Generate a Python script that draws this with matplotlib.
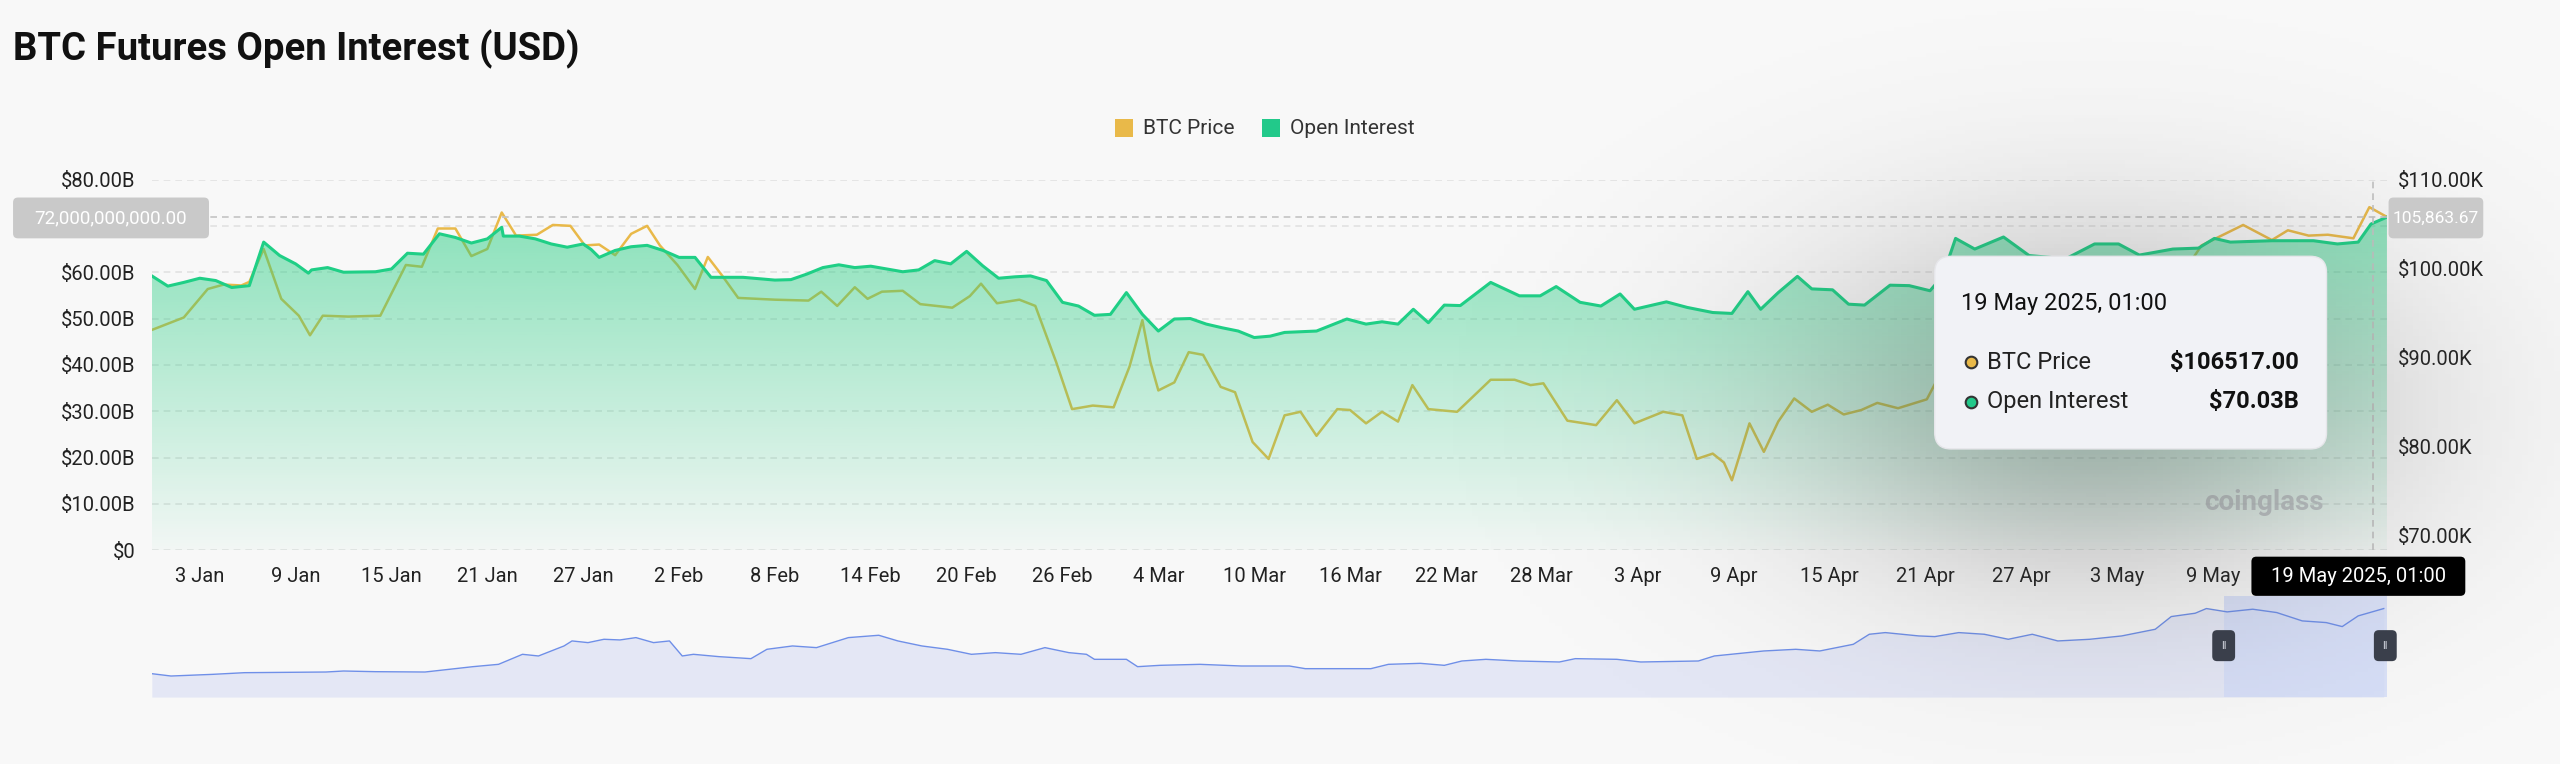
import numpy as np
import matplotlib
matplotlib.use("Agg")
import matplotlib.pyplot as plt
import matplotlib.dates as mdates
from matplotlib.patches import FancyBboxPatch, Rectangle
from matplotlib.path import Path
from matplotlib.patches import PathPatch
import datetime as dt

plt.rcParams["font.family"] = "Roboto"

# ---------------- data ----------------
base_date = dt.datetime(2024, 12, 31)
oi_day = [0, 1, 2, 3, 4, 5, 6.1, 7, 8, 9, 9.8, 10, 11, 12, 14, 15, 16, 17, 18, 19, 20, 21, 21.9, 22, 23, 24, 25, 26,
          27, 27.5, 28, 29, 30, 31, 32, 33, 34, 35, 36, 37, 39, 40, 41, 42, 43, 44, 45, 46, 47, 48, 49, 50, 51, 52, 53, 54,
          55, 56, 57, 58, 59, 60, 61, 62, 63, 64, 65, 66, 67, 68, 69, 70, 70.9, 72.9, 74.8, 76, 77, 78, 78.96, 79.9,
          80.9, 81.9, 83.8, 85.6, 86.9, 87.9, 89.4, 90.7, 91.9, 92.8, 94.8, 96.1, 97.7, 98.9, 99.9, 100.7, 101.8, 103,
          103.9, 105.2, 106.2, 107.2, 108.8, 110, 111.3, 112.1, 112.9, 114.1, 115.9, 117.5, 119.8, 121.6, 123.1, 124.4,
          126.5, 128.1, 129.1, 130.1, 132.7, 135.3, 136.8, 138.1, 138.9, 139.9]
oi_value = [59.2, 57.0, 57.8, 58.7, 58.2, 56.7, 57.1, 66.5, 63.6, 61.8, 59.8, 60.5, 61.0, 60.0, 60.1, 60.7, 64.1, 63.9,
            68.3, 67.5, 66.3, 67.2, 69.7, 67.8, 67.8, 67.2, 66.1, 65.4, 66.1, 64.9, 63.2, 64.7, 65.5, 65.8, 64.7, 63.2,
            63.2, 58.9, 58.9, 58.9, 58.3, 58.4, 59.6, 61.0, 61.6, 61.0, 61.3, 60.7, 60.1, 60.5, 62.5, 61.8, 64.5, 61.4,
            58.7, 59.0, 59.2, 58.2, 53.5, 52.7, 50.7, 50.9, 55.6, 50.9, 47.3, 49.9, 50.0, 48.8, 48.0, 47.3, 45.9, 46.2,
            47.0, 47.3, 49.9, 48.8, 49.3, 48.8, 52.0, 49.1, 52.9, 52.8, 57.8, 54.9, 54.9, 56.9, 53.5, 52.7, 55.3, 52.0,
            53.6, 52.4, 51.3, 51.1, 55.8, 52.0, 55.6, 59.1, 56.4, 56.2, 53.1, 52.9, 57.2, 57.1, 56.0, 59.2, 67.3, 65.0,
            67.6, 63.6, 62.9, 66.1, 66.1, 63.7, 65.0, 65.2, 67.3, 66.5, 66.8, 66.8, 66.1, 66.5, 70.4, 71.9]

btc_day = [0, 2, 3.5, 4.5, 5.6, 6.1, 7, 8.1, 9.2, 9.9, 10.7, 12.3, 14.3, 15.9, 16.9, 17.9, 19, 20, 21, 21.9, 22.8, 24.1,
           25.1, 26.2, 27.1, 28, 29, 30, 31, 31.8, 32.9, 34, 34.8, 35.7, 36.7, 39, 41.1, 41.9, 42.9, 44, 44.8, 45.7, 47,
           48.1, 50.1, 51.2, 51.9, 52.9, 54.3, 55.3, 56.6, 57.6, 58.9, 60.2, 61.2, 62, 62.5, 63, 64, 64.9, 65.8, 66.9,
           67.8, 68.9, 69.9, 70.9, 71.9, 72.9, 74.2, 75, 76, 77, 78, 78.9, 79.9, 81.7, 83.8, 85.3, 86.3, 87.1, 88.6,
           90.4, 91.7, 92.8, 94.6, 95.8, 96.7, 97.7, 98.4, 98.9, 100, 100.9, 101.8, 102.8, 103.9, 104.9, 105.9, 107,
           108, 109.3, 111.1, 112.1, 113, 114, 116, 118, 120, 122, 124, 126, 128.3, 130.9, 132.7, 133.7, 135, 136.2,
           137.8, 138.8, 139.9]
btc_value = [93.1, 94.5, 97.7, 98.2, 98.1, 98.5, 102.2, 96.6, 94.7, 92.5, 94.7, 94.6, 94.7, 100.4, 100.2, 104.5, 104.5,
             101.4, 102.2, 106.3, 103.7, 103.8, 104.9, 104.8, 102.6, 102.7, 101.5, 103.9, 104.8, 102.6, 100.4, 97.7,
             101.3, 99.2, 96.7, 96.5, 96.4, 97.4, 95.8, 97.9, 96.6, 97.4, 97.5, 96.0, 95.6, 96.9, 98.3, 96.1, 96.5, 95.8,
             89.5, 84.2, 84.6, 84.4, 89.0, 94.2, 89.5, 86.3, 87.2, 90.6, 90.3, 86.7, 86.1, 80.5, 78.6, 83.5, 83.9, 81.2,
             84.2, 84.1, 82.6, 83.9, 82.8, 86.9, 84.2, 83.9, 87.5, 87.5, 86.9, 87.1, 82.9, 82.4, 85.2, 82.6, 83.9, 83.5,
             78.6, 79.2, 78.2, 76.2, 82.6, 79.4, 82.8, 85.4, 83.9, 84.7, 83.6, 84.1, 84.9, 84.3, 85.3, 88.7, 92.0, 93.5,
             94.5, 94.8, 94.5, 96.5, 97.0, 96.5, 102.6, 104.9, 103.2, 104.3, 103.7, 103.8, 103.4, 106.9, 105.8]

nav_day = [0, 1.2, 3.8, 5.8, 10.9, 12, 14, 17.1, 18.6, 20.1, 21.7, 23.2, 24.2, 25.8, 26.3, 27.3, 28.3, 29.3, 30.3, 31.4,
           32.4, 33.2, 33.9, 35.5, 37.5, 38.5, 40.1, 41.6, 42.6, 43.6, 45.5, 46.7, 48.2, 49.8, 51.3, 52.8, 54.4, 55.9,
           57.4, 58.5, 59, 61, 61.7, 63.1, 65.6, 68.2, 71.2, 72.2, 76.3, 77.4, 79.4, 80.9, 82, 83.5, 85.5, 88.1, 89.1,
           91.7, 93.2, 96.8, 97.8, 100.9, 102.9, 104.4, 106.5, 107.5, 108.5, 110.6, 111.6, 113.1, 114.7, 116.2, 117.7,
           119.3, 121.3, 123.3, 125.4, 126.4, 127.9, 128.6, 129.9, 131.5, 133, 134.6, 136.1, 137.1, 138.1, 139.7]
nav_value = [70, 63, 68, 73, 75, 78, 76, 75, 83, 91, 98, 128, 123, 153, 168, 163, 173, 171, 178, 163, 168, 123, 128, 121,
             115, 143, 153, 148, 163, 178, 185, 168, 153, 143, 128, 133, 128, 148, 133, 128, 113, 113, 91, 95, 98, 93,
             93, 85, 85, 98, 101, 95, 108, 113, 108, 105, 115, 113, 105, 108, 123, 138, 143, 138, 158, 188, 193, 183,
             181, 193, 188, 173, 188, 168, 173, 183, 203, 241, 251, 265, 255, 263, 253, 228, 223, 211, 243, 265]

left_ticks = [0, 10, 20, 30, 40, 50, 60, 70, 80]
hidden_left_tick = 70  # covered by the crosshair pointer label in the reference
right_ticks = [70, 80, 90, 100, 110]
tick_start = dt.datetime(2025, 1, 3)
n_xticks = 22
end_day = 139.9
hover_day = 139.04
hover_label = "19 May 2025, 01:00"
hover_btc = "$106517.00"
hover_oi = "$70.03B"
cross_left = "72,000,000,000.00"
cross_right = "105,863.67"
cross_oi = 72.0

# ---------------- figure ----------------
BG = "#f8f8f8"
W, H = 1568.0, 468.0
fig = plt.figure(figsize=(25.6, 7.64), dpi=100, facecolor=BG)

def fx(x): return x / W
def fy(y): return 1 - y / H

def todate(days):
    return [mdates.date2num(base_date + dt.timedelta(days=float(d))) for d in days]

oi_x = np.array(todate(oi_day)); oi_y = np.array(oi_value)
btc_x = np.array(todate(btc_day)); btc_y = np.array(btc_value)
x0 = mdates.date2num(base_date); x1 = mdates.date2num(base_date + dt.timedelta(days=end_day))

ax = fig.add_axes([fx(93), fy(337), fx(1462) - fx(93), fy(110) - fy(337)])
ax.set_facecolor("none")
ax.set_xlim(x0, x1)
ax.set_ylim(0, 80)
for s in ax.spines.values(): s.set_visible(False)
ax.set_yticks(left_ticks)
ax.set_yticklabels([("$0" if v == 0 else ("" if v == hidden_left_tick else f"${v:.2f}B")) for v in left_ticks])
ax.tick_params(axis="y", length=0, pad=12, labelsize=14.5, labelcolor="#222")
for v in left_ticks:
    ax.axhline(v, color="#e2e2e2", lw=1.2, ls=(0, (4, 3)), zorder=0)
xt = [mdates.date2num(tick_start + dt.timedelta(days=6 * i)) for i in range(n_xticks)]
ax.set_xticks(xt)
ax.set_xticklabels([f"{(tick_start + dt.timedelta(days=6 * i)).day} {(tick_start + dt.timedelta(days=6 * i)):%b}" for i in range(n_xticks)])
ax.tick_params(axis="x", length=0, pad=12, labelsize=14.5, labelcolor="#222")

ax2 = ax.twinx()
ax2.set_ylim(68.35, 110)
for s in ax2.spines.values(): s.set_visible(False)
ax2.set_yticks(right_ticks)
ax2.set_yticklabels([f"${v:.2f}K" for v in right_ticks])
ax2.tick_params(axis="y", length=0, pad=8, labelsize=14.5, labelcolor="#222")

# BTC line (under the fill)
ax2.plot(btc_x, btc_y, color="#e9b949", lw=1.8, zorder=1)

# OI gradient fill
grad = np.linspace(1, 0, 256).reshape(-1, 1)
rgba = np.zeros((256, 1, 4))
rgba[..., 0] = 0.13; rgba[..., 1] = 0.80; rgba[..., 2] = 0.50
rgba[..., 3] = 0.03 + 0.52 * grad[:, :]
ax3 = fig.add_axes(ax.get_position(), sharex=ax)
ax3.set_ylim(0, 80); ax3.axis("off"); ax3.set_facecolor("none")
im = ax3.imshow(rgba, extent=[x0, x1, 0, 80 * 0.97], aspect="auto", origin="upper", zorder=2)
verts = [(oi_x[0], 0)] + list(zip(oi_x, oi_y)) + [(oi_x[-1], 0)]
clip = PathPatch(Path(verts), transform=ax3.transData, facecolor="none", edgecolor="none")
ax3.add_patch(clip)
im.set_clip_path(clip)
ax3.plot(oi_x, oi_y, color="#1fcf86", lw=2.2, zorder=3)
ax3.set_xlim(x0, x1)

# crosshair
ax3.axhline(cross_oi, color="#c4c4c4", lw=1.2, ls=(0, (4, 3)), zorder=4)
hx = mdates.date2num(base_date + dt.timedelta(days=hover_day))
ax3.axvline(hx, color="#c4c4c4", lw=1.2, ls=(0, (4, 3)), zorder=4)

# watermark
fig.text(fx(1350), fy(308), "coinglass", fontsize=20, color="#b8bcc0", fontweight="bold", va="center", ha="left", alpha=0.8)

# navigator
nav = fig.add_axes([fx(93), fy(427), fx(1462) - fx(93), fy(365) - fy(427)])
nav.set_facecolor("none")
nx = np.array(todate(nav_day))
nav.set_xlim(x0, x1); nav.set_ylim(0, 303)
nav.fill_between(nx, 0, nav_value, color="#e4e7f5", lw=0)
nav.plot(nx, nav_value, color="#6f8fe8", lw=1.0)
nav.axvspan(mdates.date2num(base_date + dt.timedelta(days=129.7)), x1, color="#d3dcf8", alpha=0.8, lw=0)
nav.axis("off")

# shadow
sh = fig.add_axes([0, 0, 1, 1], zorder=5)
sh.axis("off"); sh.set_xlim(0, W); sh.set_ylim(H, 0)
gx, gy = np.meshgrid(np.linspace(0, W, 400), np.linspace(0, H, 200))
g = np.exp(-(((gx - 1285) / 185) ** 2 + ((gy - 250) / 115) ** 2))
sim = np.zeros(g.shape + (4,)); sim[..., :3] = 0.3; sim[..., 3] = 0.38 * g
sh.imshow(sim, extent=[0, W, H, 0], aspect="auto", zorder=0)

# tooltip
sh.add_patch(FancyBboxPatch((1185, 157), 240, 118, boxstyle="round,pad=0,rounding_size=10",
                            facecolor="#f1f2f6", edgecolor="#e6e6ea", lw=1, zorder=2))
sh.text(1201, 186, hover_label, fontsize=17, color="#111", va="center", ha="left", zorder=3)
sh.scatter([1207], [222], s=70, color="#e9b949", edgecolor="#333", lw=1.5, zorder=3)
sh.scatter([1207], [246], s=70, color="#22c98a", edgecolor="#333", lw=1.5, zorder=3)
sh.text(1217, 222, "BTC Price", fontsize=17, color="#222", va="center", zorder=3)
sh.text(1217, 246, "Open Interest", fontsize=17, color="#222", va="center", zorder=3)
sh.text(1408, 222, hover_btc, fontsize=17, color="#111", va="center", ha="right", fontweight="bold", zorder=3)
sh.text(1408, 246, hover_oi, fontsize=17, color="#111", va="center", ha="right", fontweight="bold", zorder=3)

# axis pointer labels
sh.add_patch(FancyBboxPatch((8, 121), 120, 25, boxstyle="round,pad=0,rounding_size=3", facecolor="#c9c9c9", lw=0, zorder=2))
sh.text(68, 133.5, cross_left, fontsize=13.5, color="white", ha="center", va="center", zorder=3)
sh.add_patch(FancyBboxPatch((1463, 121), 58, 25, boxstyle="round,pad=0,rounding_size=3", facecolor="#c9c9c9", lw=0, zorder=2))
sh.text(1492, 133.5, cross_right, fontsize=12.5, color="white", ha="center", va="center", zorder=3)
sh.add_patch(FancyBboxPatch((1379, 341), 131, 24, boxstyle="round,pad=0,rounding_size=3", facecolor="black", lw=0, zorder=2))
sh.text(1444.5, 353, hover_label, fontsize=14.5, color="white", ha="center", va="center", zorder=3)
# navigator handles
for hxp in (1362, 1461):
    sh.add_patch(FancyBboxPatch((hxp - 7, 386), 14, 19, boxstyle="round,pad=0,rounding_size=3", facecolor="#3a3f4b", lw=0, zorder=2))
    sh.text(hxp, 395.5, "ll", fontsize=8, color="#cfd3dc", ha="center", va="center", zorder=3)

# title & legend
fig.text(fx(8), fy(30), "BTC Futures Open Interest (USD)", fontsize=27.5, fontweight="bold", color="#111", va="center", ha="left")
sh.add_patch(Rectangle((683, 73), 11, 11, facecolor="#e9b949", lw=0))
sh.text(700, 78.5, "BTC Price", fontsize=15, color="#333", va="center")
sh.add_patch(Rectangle((773, 73), 11, 11, facecolor="#22c98a", lw=0))
sh.text(790, 78.5, "Open Interest", fontsize=15, color="#333", va="center")

fig.savefig("out.png", dpi=100, facecolor=BG)
